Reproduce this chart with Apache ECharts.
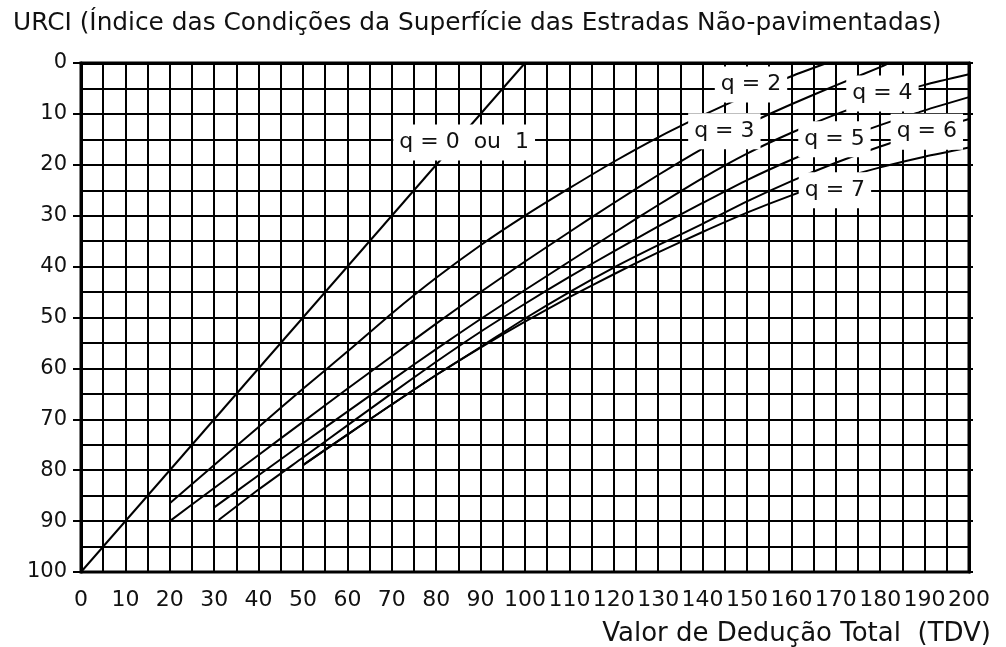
<!DOCTYPE html>
<html>
<head>
<meta charset="utf-8">
<script src="https://cdn.jsdelivr.net/npm/echarts@6/dist/echarts.min.js"></script>
<style>
  html, body { margin: 0; padding: 0; background: #fff; }
  #chart { width: 1006px; height: 647px; }
</style>
</head>
<body>
<div id="chart"></div>
<script>
// URCI curves: TDV (x) against URCI (y), one pair of arrays per q
const tdvQ01 = [0, 100];
const urciQ01 = [100, 0];

const tdvQ2 = [20, 30, 40, 50, 60, 70, 80, 90, 100, 110, 120, 130, 140, 150, 160, 168];
const urciQ2 = [86.5, 79, 71.5, 64, 56.7, 49.2, 42.2, 35.8, 30, 24.6, 19.4, 14.6, 10.3, 6.3, 2.6, 0];

const tdvQ3 = [20, 30, 40, 50, 60, 70, 80, 90, 100, 110, 120, 130, 140, 150, 160, 170, 180, 182];
const urciQ3 = [90, 83.5, 77, 70.5, 64, 57.6, 51.2, 45, 39, 33.2, 27.5, 22, 16.8, 12.1, 8.1, 4.4, 0.8, 0];

const tdvQ4 = [30, 40, 50, 60, 70, 80, 90, 100, 110, 120, 130, 140, 150, 160, 170, 180, 190, 200];
const urciQ4 = [87.3, 81, 74.7, 68.5, 62.3, 56.2, 50.3, 44.6, 39, 33.4, 27.9, 22.6, 17.8, 13.7, 10.1, 7, 4.3, 2.2];

const tdvQ5 = [31, 40, 50, 60, 70, 80, 90, 100, 110, 120, 130, 140, 150, 160, 170, 180, 190, 200];
const urciQ5 = [89.8, 83.8, 77.5, 71.2, 64.9, 58.7, 52.8, 47.3, 42, 37, 32.1, 27.5, 23, 19, 15.4, 12.2, 9.3, 6.7];

const tdvQ6 = [50, 60, 70, 80, 90, 100, 110, 120, 130, 140, 150, 160, 170, 180, 190, 200];
const urciQ6 = [79, 73, 67.1, 61.3, 55.8, 50.2, 45, 40.2, 35.8, 31.6, 27.2, 23.2, 19.6, 16.4, 13.6, 11];

const tdvQ7 = [50, 60, 70, 80, 90, 100, 110, 120, 130, 140, 150, 160, 170, 180, 190, 200];
const urciQ7 = [79, 73, 67.1, 61.3, 55.9, 50.8, 46, 41.5, 37.2, 33.2, 29.4, 26, 23, 20.5, 18.4, 16.6];

// curve labels and where they sit (TDV, URCI)
const curveNames = ['q = 0  ou  1', 'q = 2', 'q = 3', 'q = 4', 'q = 5', 'q = 6', 'q = 7'];
const nameTdv = [86.3, 150.9, 144.9, 180.5, 169.7, 190.5, 169.8];
const nameUrci = [15.6, 4.2, 13.4, 6.0, 15.0, 13.5, 25.0];

const zip = (xs, ys) => xs.map((x, i) => [x, ys[i]]);

const curves = [
  zip(tdvQ01, urciQ01), zip(tdvQ2, urciQ2), zip(tdvQ3, urciQ3),
  zip(tdvQ4, urciQ4), zip(tdvQ5, urciQ5), zip(tdvQ6, urciQ6), zip(tdvQ7, urciQ7)
];

const ink = '#111';
const labelFont = 'DejaVu Sans, Verdana, sans-serif';

const curveSeries = curves.map((pts) => ({
  type: 'line',
  data: pts,
  symbol: 'none',
  smooth: 0.2,
  silent: true,
  z: 3,
  lineStyle: { color: '#000', width: 2 }
}));

// curve names on opaque white boxes that mask the grid and curves beneath
const labelSeries = {
  type: 'scatter',
  symbolSize: 0,
  silent: true,
  z: 10,
  itemStyle: { opacity: 1 },
  data: curveNames.map((n, i) => [nameTdv[i], nameUrci[i], n]),
  label: {
    show: true,
    position: 'inside',
    formatter: (p) => p.data[2],
    fontFamily: labelFont,
    fontSize: 22,
    color: ink,
    opacity: 1,
    backgroundColor: '#fff',
    padding: [7, 6]
  }
};

const chart = echarts.init(document.getElementById('chart'), null, { renderer: 'canvas' });
chart.setOption({
  animation: false,
  backgroundColor: '#fff',
  title: [{
    text: 'URCI (Índice das Condições da Superfície das Estradas Não-pavimentadas)',
    left: 8,
    top: 6,
    textStyle: {
      fontFamily: labelFont,
      fontSize: 24.8,
      fontWeight: 'normal',
      color: ink
    }
  }, {
    text: 'Valor de Dedução Total  (TDV)',
    right: 10,
    top: 616,
    textStyle: {
      fontFamily: labelFont,
      fontSize: 26,
      fontWeight: 'normal',
      color: ink
    }
  }],
  grid: {
    left: 81, top: 63, width: 888, height: 509,
    show: true, borderColor: '#000', borderWidth: 3, backgroundColor: 'transparent'
  },
  xAxis: {
    type: 'value',
    min: 0, max: 200, interval: 10,
    axisLine: { show: true, lineStyle: { color: '#000', width: 3 } },
    axisTick: { show: true, length: 8, lineStyle: { color: '#000', width: 2 } },
    axisLabel: { fontFamily: labelFont, fontSize: 22, color: ink, margin: 17 },
    splitLine: { show: true, lineStyle: { color: '#000', width: 2 } },
    minorTick: { show: false, splitNumber: 2 },
    minorSplitLine: { show: true, lineStyle: { color: '#000', width: 2 } }
  },
  yAxis: [{
    type: 'value',
    inverse: true,
    min: 0, max: 100, interval: 10,
    axisLine: { show: true, lineStyle: { color: '#000', width: 3 } },
    axisTick: { show: true, length: 8, lineStyle: { color: '#000', width: 2 } },
    axisLabel: { fontFamily: labelFont, fontSize: 21, color: ink, margin: 14 },
    splitLine: { show: true, lineStyle: { color: '#000', width: 2 } },
    minorTick: { show: false, splitNumber: 2 },
    minorSplitLine: { show: true, lineStyle: { color: '#000', width: 2 } }
  }, {
    type: 'value',
    position: 'right',
    inverse: true,
    min: 0, max: 100, interval: 10,
    axisLine: { show: true, lineStyle: { color: '#000', width: 3 } },
    axisTick: { show: true, length: 4, lineStyle: { color: '#000', width: 2 } },
    axisLabel: { show: false },
    splitLine: { show: false }
  }],
  series: curveSeries.concat([labelSeries])
});
</script>
</body>
</html>
